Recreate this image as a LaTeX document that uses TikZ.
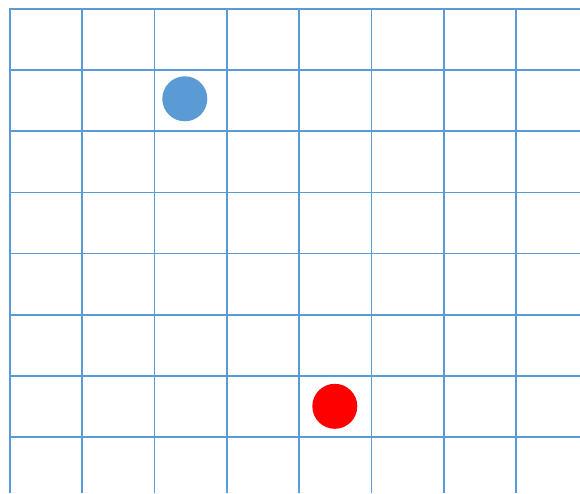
\documentclass[tikz,border=0pt]{standalone}
\definecolor{gridblue}{HTML}{5B9BD5}
\definecolor{dotred}{HTML}{FF0000}
\tikzset{gridline/.style={draw=gridblue,line width=1.7pt},
  dot/.style={circle,minimum size=45pt,inner sep=0pt}}
\begin{document}
\begin{tikzpicture}[x=1pt,y=-1pt]
\useasboundingbox[fill=white] (0,0) rectangle (580,493);
\foreach \i in {0,...,7}{
  \draw[gridline] (10+72.29*\i,8) -- (10+72.29*\i,493);
  \draw[gridline] (10,9+61.14*\i) -- (580,9+61.14*\i);
}
\node[dot,fill=gridblue] (blue) at (184.8,98.8) {};
\node[dot,fill=dotred] (red) at (334.8,406.3) {};
\end{tikzpicture}
\end{document}
